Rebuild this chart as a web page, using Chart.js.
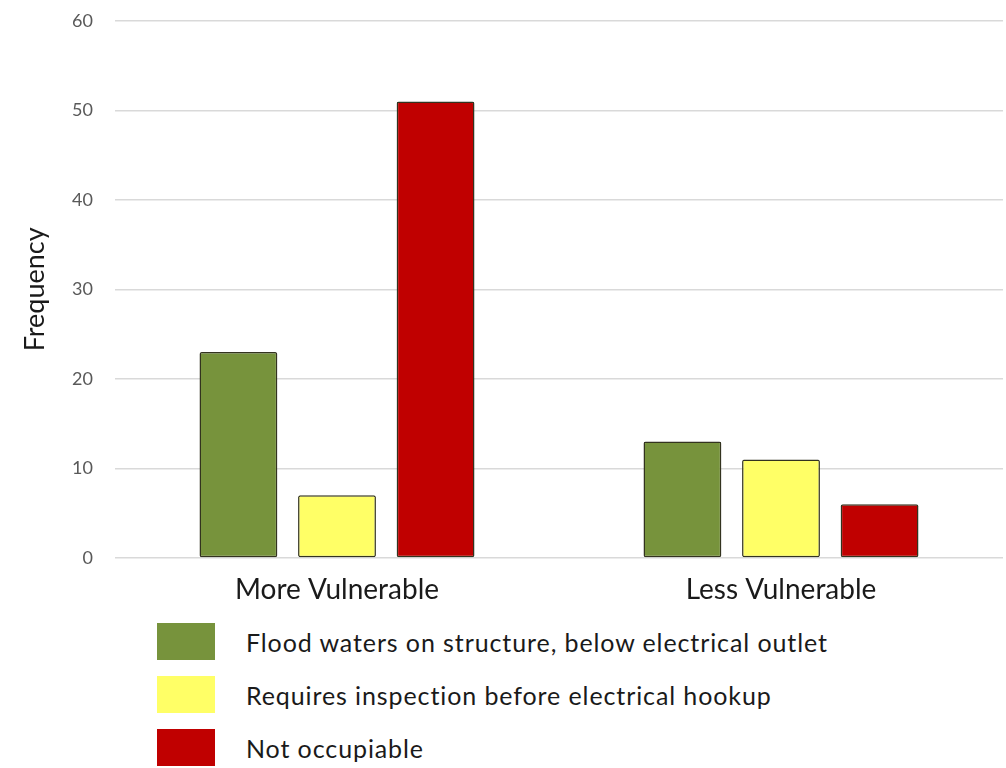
<!DOCTYPE html>
<html>
<head>
<meta charset="utf-8">
<script src="https://cdn.jsdelivr.net/npm/chart.js@4/dist/chart.umd.min.js"></script>
<style>
  html, body { margin: 0; padding: 0; background: #fff; }
  #wrap { position: relative; width: 1006px; height: 768px; overflow: hidden; }
  #chartBox { position: absolute; left: 0; top: -12px; width: 1006px; height: 622px; }
  #legend { position: absolute; left: 157px; top: 623px; font-family: Lato, "Liberation Sans", sans-serif; font-size: 25px; letter-spacing: 0.9px; color: #1a1a1a; }
  .item { display: flex; align-items: center; height: 37px; margin-bottom: 16px; }
  .swatch { width: 58px; height: 37px; margin-right: 31px; }
</style>
</head>
<body>
<div id="wrap">
  <div id="chartBox"><canvas id="c"></canvas></div>
  <div id="legend"></div>
</div>
<script>
// Categories and series
const categories = ["More Vulnerable", "Less Vulnerable"];
const seriesNames = [
  "Flood waters on structure, below electrical outlet",
  "Requires inspection before electrical hookup",
  "Not occupiable"
];
const floodBelowOutlet = [23, 13];
const needsInspection = [7, 11];
const notOccupiable = [51, 6];
const yTicks = [0, 10, 20, 30, 40, 50, 60];

const colors = ["#77933c", "#ffff66", "#c00000"];
const seriesValues = [floodBelowOutlet, needsInspection, notOccupiable];

const datasets = seriesNames.map((name, i) => ({
  label: name,
  data: seriesValues[i],
  backgroundColor: colors[i],
  borderColor: "#33331f",
  borderWidth: 1.5,
  borderRadius: 2,
  borderSkipped: false,
  categoryPercentage: 0.666,
  barPercentage: 0.79
}));

new Chart(document.getElementById("c"), {
  type: "bar",
  data: { labels: categories, datasets },
  options: {
    responsive: true,
    maintainAspectRatio: false,
    animation: false,
    layout: { padding: { top: 8, right: 3, left: 0, bottom: 0 } },
    plugins: { legend: { display: false }, tooltip: { enabled: false } },
    scales: {
      x: {
        grid: { display: false, drawTicks: false },
        border: { display: false },
        ticks: {
          color: "#1a1a1a",
          padding: 15,
          font: { family: "Lato, 'Liberation Sans', sans-serif", size: 28 }
        },
        afterFit(scale) { scale.height = 52; }
      },
      y: {
        min: 0,
        max: 60,
        afterBuildTicks(scale) { scale.ticks = yTicks.map(v => ({ value: v })); },
        grid: { color: "#d9d9d9", lineWidth: 1.5, drawTicks: false },
        border: { display: false },
        ticks: {
          color: "#595959",
          padding: 22,
          font: { family: "Lato, 'Liberation Sans', sans-serif", size: 18 }
        },
        title: {
          display: true,
          text: "Frequency",
          color: "#1a1a1a",
          padding: { top: 19, bottom: 0 },
          font: { family: "Lato, 'Liberation Sans', sans-serif", size: 27 }
        },
        afterFit(scale) { scale.width = 115; }
      }
    }
  }
});

// Vertical legend built from the same series
const legend = document.getElementById("legend");
seriesNames.forEach((name, i) => {
  const row = document.createElement("div");
  row.className = "item";
  const sw = document.createElement("div");
  sw.className = "swatch";
  sw.style.background = colors[i];
  const tx = document.createElement("span");
  tx.textContent = name;
  row.appendChild(sw);
  row.appendChild(tx);
  legend.appendChild(row);
});
</script>
</body>
</html>
